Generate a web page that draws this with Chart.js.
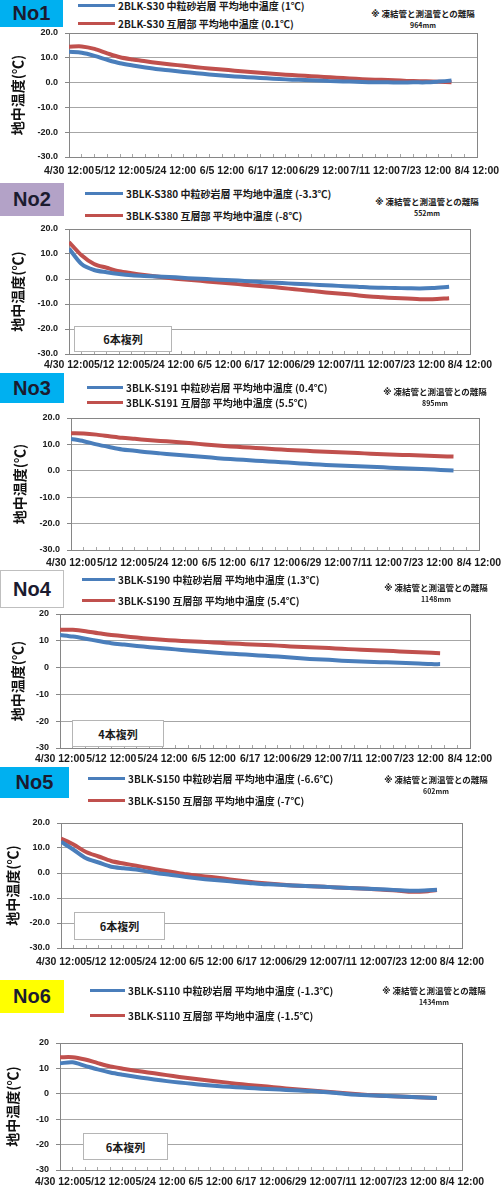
<!DOCTYPE html>
<html lang="ja">
<head>
<meta charset="utf-8">
<script src="https://cdn.jsdelivr.net/npm/chart.js@4.4.1/dist/chart.umd.min.js"></script>
<style>
  body { margin: 0; background: #fff; }
  #page { position: relative; width: 501px; height: 1187px; overflow: hidden; }
  .badge { position: absolute; box-sizing: border-box; display: flex; align-items: center; justify-content: center;
           font: bold 20px "Liberation Sans", Arial, sans-serif; color: #1b1b2f; }
  .leg { position: absolute; height: 0; }
  .leg i { position: absolute; left: 0; top: -1.5px; height: 3px; }
  .leg span { position: absolute; top: -7px; white-space: nowrap; line-height: 14px; color: #1a1a1a;
              font: bold 10px "Noto Sans CJK JP", sans-serif; }
  .note { position: absolute; width: 130px; text-align: center; color: #1a1a1a; white-space: nowrap;
          font: bold 8.5px "Noto Sans CJK JP", sans-serif; line-height: 10px; }
  .note b { font-family: "DejaVu Sans", sans-serif; color: #1a1a1a; }
  .note small { font-size: 7px; }
  .wrap { position: absolute; left: 0; width: 501px; }
  .multi { position: absolute; box-sizing: border-box; background: #fff; border: 1px solid #b5b5b5; z-index: 2;
           display: flex; align-items: center; justify-content: center; color: #1a1a1a;
           font: bold 11px "Noto Sans CJK JP", sans-serif; }
</style>
</head>
<body>
<div id="page"></div>
<script>
// 経過日数 (4/30 12:00 からの日数)
const days = [0, 3, 6, 9, 12, 15, 18, 21, 24, 27, 30, 33, 36, 39, 42, 45, 48, 51, 54, 57, 60, 63, 66, 69, 72, 75, 78, 81, 84, 87, 90];
const xTickLabels = ['4/30 12:00', '5/12 12:00', '5/24 12:00', '6/5 12:00', '6/17 12:00', '6/29 12:00', '7/11 12:00', '7/23 12:00', '8/4 12:00'];
const lastDay = [90, 91, 90, 89, 90, 90];

const panelNames = ['No1', 'No2', 'No3', 'No4', 'No5', 'No6'];
const blueLabels = [
  '2BLK-S30 中粒砂岩層 平均地中温度 (1℃)',
  '3BLK-S380 中粒砂岩層 平均地中温度 (-3.3℃)',
  '3BLK-S191 中粒砂岩層 平均地中温度 (0.4℃)',
  '3BLK-S190 中粒砂岩層 平均地中温度 (1.3℃)',
  '3BLK-S150 中粒砂岩層 平均地中温度 (-6.6℃)',
  '3BLK-S110 中粒砂岩層 平均地中温度 (-1.3℃)'
];
const redLabels = [
  '2BLK-S30 互層部 平均地中温度 (0.1℃)',
  '3BLK-S380 互層部 平均地中温度 (-8℃)',
  '3BLK-S191 互層部 平均地中温度 (5.5℃)',
  '3BLK-S190 互層部 平均地中温度 (5.4℃)',
  '3BLK-S150 互層部 平均地中温度 (-7℃)',
  '3BLK-S110 互層部 平均地中温度 (-1.5℃)'
];
const distances = ['964mm', '552mm', '895mm', '1148mm', '602mm', '1434mm'];
const multiLabels = [null, '6本複列', null, '4本複列', '6本複列', '6本複列'];

// 中粒砂岩層 (青)
const blueNo1 = [12.4, 12.0, 10.8, 9.2, 7.8, 6.9, 6.1, 5.4, 4.9, 4.3, 3.8, 3.3, 2.9, 2.5, 2.2, 1.9, 1.6, 1.3, 1.1, 0.9, 0.7, 0.5, 0.4, 0.2, 0.1, 0.1, 0.0, 0.1, 0.1, 0.4, 0.8];
const blueNo2 = [12.2, 6.0, 3.6, 2.7, 2.0, 1.5, 1.2, 1.0, 0.8, 0.5, 0.2, 0.0, -0.3, -0.5, -0.8, -1.1, -1.4, -1.6, -1.9, -2.1, -2.4, -2.6, -2.9, -3.1, -3.4, -3.5, -3.6, -3.7, -3.8, -3.6, -3.1];
const blueNo3 = [12.1, 11.2, 10.0, 9.0, 8.1, 7.6, 7.0, 6.6, 6.2, 5.8, 5.4, 5.0, 4.6, 4.3, 4.0, 3.7, 3.4, 3.1, 2.8, 2.5, 2.2, 2.0, 1.8, 1.6, 1.4, 1.2, 1.0, 0.8, 0.6, 0.3, 0.1];
const blueNo4 = [12.2, 11.6, 10.8, 9.9, 9.1, 8.6, 8.1, 7.6, 7.2, 6.8, 6.4, 6.0, 5.6, 5.3, 5.0, 4.7, 4.4, 4.1, 3.8, 3.4, 3.1, 2.9, 2.6, 2.4, 2.2, 2.0, 1.9, 1.7, 1.5, 1.3, 1.3];
const blueNo5 = [12.5, 9.3, 5.9, 4.2, 2.5, 1.9, 1.4, 0.5, -0.3, -0.9, -1.6, -2.2, -2.7, -3.1, -3.6, -4.0, -4.4, -4.6, -4.9, -5.1, -5.3, -5.5, -5.8, -6.0, -6.2, -6.4, -6.6, -6.9, -7.1, -7.0, -6.7];
const blueNo6 = [12.0, 12.4, 11.0, 9.6, 8.4, 7.5, 6.7, 6.0, 5.3, 4.7, 4.2, 3.7, 3.3, 2.9, 2.6, 2.3, 2.0, 1.8, 1.5, 1.3, 1.1, 0.7, 0.3, -0.2, -0.5, -0.7, -0.9, -1.1, -1.3, -1.5, -1.7];

// 互層部 (赤)
const redNo1 = [14.5, 14.6, 13.6, 11.8, 10.2, 9.3, 8.6, 7.9, 7.3, 6.8, 6.2, 5.7, 5.3, 4.8, 4.4, 4.0, 3.6, 3.2, 2.9, 2.6, 2.3, 2.0, 1.7, 1.4, 1.2, 1.0, 0.8, 0.6, 0.5, 0.3, 0.1];
const redNo2 = [14.8, 9.5, 6.0, 4.5, 3.1, 2.3, 1.6, 1.0, 0.4, -0.1, -0.5, -1.0, -1.4, -1.8, -2.3, -2.7, -3.1, -3.6, -4.1, -4.6, -5.1, -5.6, -6.0, -6.5, -7.0, -7.3, -7.6, -7.8, -8.1, -8.1, -7.7];
const redNo3 = [14.2, 14.1, 13.7, 13.1, 12.5, 12.1, 11.7, 11.3, 11.0, 10.6, 10.2, 9.8, 9.4, 9.1, 8.8, 8.5, 8.2, 7.9, 7.7, 7.4, 7.2, 7.0, 6.8, 6.6, 6.4, 6.2, 6.0, 5.9, 5.7, 5.5, 5.4];
const redNo4 = [14.1, 14.1, 13.6, 12.8, 12.2, 11.7, 11.2, 10.8, 10.4, 10.1, 9.8, 9.6, 9.4, 9.1, 8.9, 8.6, 8.4, 8.2, 7.9, 7.7, 7.5, 7.3, 7.0, 6.8, 6.6, 6.4, 6.2, 5.9, 5.7, 5.5, 5.4];
const redNo5 = [13.8, 11.4, 8.4, 6.6, 4.8, 3.8, 2.9, 2.0, 1.1, 0.3, -0.5, -1.1, -1.6, -2.2, -2.9, -3.5, -4.0, -4.4, -4.8, -5.1, -5.3, -5.5, -5.8, -6.0, -6.2, -6.5, -6.8, -7.1, -7.5, -7.4, -6.8];
const redNo6 = [14.4, 14.4, 13.5, 12.1, 10.8, 9.9, 9.1, 8.4, 7.7, 7.0, 6.3, 5.7, 5.1, 4.6, 4.0, 3.5, 3.1, 2.6, 2.1, 1.7, 1.3, 0.9, 0.5, 0.1, -0.3, -0.6, -0.9, -1.1, -1.3, -1.5, -1.7];

const blueSeries = [blueNo1, blueNo2, blueNo3, blueNo4, blueNo5, blueNo6];
const redSeries = [redNo1, redNo2, redNo3, redNo4, redNo5, redNo6];

// 配置 (ピクセル)
const layouts = [
  { badge: [0, 0, 63, 27, '#00b0f0'], legY: [5, 23], legX: [78, 115], note: [358, 8], plot: [69, 477, 33, 157], lab: 14, title: 18, dec: true },
  { badge: [0, 183, 64, 33, '#b3a2c7'], legY: [193, 215], legX: [85, 123], note: [362, 196], plot: [69, 470, 229, 354], lab: 11, title: 18, dec: true, multi: [74, 326, 98, 26] },
  { badge: [0, 373, 64, 30, '#00b0f0'], legY: [387, 402], legX: [87, 123], note: [370, 386], plot: [71, 479, 418, 550], lab: 13, title: 20, dec: true },
  { badge: [0, 570, 64, 38, '#ffffff'], legY: [579, 600], legX: [82, 115], note: [371, 582], plot: [60, 470, 614, 748], lab: 11, title: 18, dec: false, multi: [72, 720, 92, 27] },
  { badge: [0, 767, 69, 31, '#00b0f0'], legY: [778, 800], legX: [88, 125], note: [371, 774], plot: [61, 462, 823, 948], lab: 14, title: 13, dec: true, multi: [74, 912, 91, 28] },
  { badge: [0, 980, 64, 33, '#ffff00'], legY: [990, 1015], legX: [90, 125], note: [369, 985], plot: [60, 462, 1043, 1170], lab: 12, title: 13, dec: false, multi: [83, 1133, 85, 27] }
];

const page = document.getElementById('page');
const BLUE = '#4a7ebb';
const RED = '#c0504d';

const framePlugin = {
  id: 'frame',
  beforeDatasetsDraw(chart) {
    const { ctx, chartArea: a } = chart;
    ctx.save();
    ctx.strokeStyle = '#868686';
    ctx.lineWidth = 1;
    ctx.strokeRect(Math.round(a.left) + 0.5, Math.round(a.top) + 0.5, Math.round(a.right - a.left), Math.round(a.bottom - a.top));
    ctx.restore();
  }
};

function toPoints(values, p) {
  return values.map((v, i) => ({ x: i === days.length - 1 ? lastDay[p] : days[i], y: v }));
}

function addLegend(y, x0, x1, color, text) {
  const d = document.createElement('div');
  d.className = 'leg';
  d.style.left = x0 + 'px';
  d.style.top = y + 'px';
  d.innerHTML = `<i style="width:${x1 - x0}px;background:${color}"></i><span style="left:${x1 - x0 + 3}px">${text}</span>`;
  page.appendChild(d);
}

layouts.forEach((L, p) => {
  const [bx, by, bw, bh, bc] = L.badge;
  const badge = document.createElement('div');
  badge.className = 'badge';
  badge.style.cssText = `left:${bx}px;top:${by}px;width:${bw}px;height:${bh}px;background:${bc};` +
    (bc === '#ffffff' ? 'border:1px solid #bfbfbf;' : '');
  badge.textContent = panelNames[p];
  page.appendChild(badge);

  addLegend(L.legY[0], L.legX[0], L.legX[1], BLUE, blueLabels[p]);
  addLegend(L.legY[1], L.legX[0], L.legX[1], RED, redLabels[p]);

  const note = document.createElement('div');
  note.className = 'note';
  note.style.left = L.note[0] + 'px';
  note.style.top = L.note[1] + 'px';
  note.innerHTML = `<b>\u203B\uFE0E</b> 凍結管と測温管との離隔<br><small>${distances[p]}</small>`;
  page.appendChild(note);

  if (L.multi) {
    const m = document.createElement('div');
    m.className = 'multi';
    m.style.cssText = `left:${L.multi[0]}px;top:${L.multi[1]}px;width:${L.multi[2]}px;height:${L.multi[3]}px;`;
    m.textContent = multiLabels[p];
    page.appendChild(m);
  }

  const [pl, pr, pt, pb] = L.plot;
  const top = pt - 8;
  const xAxisH = 22;
  const wrap = document.createElement('div');
  wrap.className = 'wrap';
  wrap.style.top = top + 'px';
  wrap.style.height = (pb - top + xAxisH) + 'px';
  const canvas = document.createElement('canvas');
  wrap.appendChild(canvas);
  page.appendChild(wrap);

  const tickFont = { family: '"Liberation Sans", Arial, sans-serif', size: 9, weight: 'bold' };

  new Chart(canvas, {
    type: 'line',
    data: {
      datasets: [
        { label: blueLabels[p], data: toPoints(blueSeries[p], p), borderColor: BLUE, borderWidth: 4, pointRadius: 0, tension: 0.3 },
        { label: redLabels[p], data: toPoints(redSeries[p], p), borderColor: RED, borderWidth: 4, pointRadius: 0, tension: 0.3 }
      ]
    },
    options: {
      responsive: true,
      maintainAspectRatio: false,
      animation: false,
      layout: { padding: { left: 0, right: 501 - pr, top: 8, bottom: 0 } },
      plugins: { legend: { display: false }, tooltip: { enabled: false } },
      scales: {
        x: {
          type: 'linear', min: 0, max: 96,
          ticks: {
            stepSize: 3, autoSkip: false, maxRotation: 0, minRotation: 0,
            padding: L.lab - 6 + 3,
            color: '#1a1a1a',
            font: { family: '"Liberation Sans", Arial, sans-serif', size: 10.5, weight: 'bold' },
            callback: v => (v % 12 === 0 ? xTickLabels[v / 12] : '')
          },
          grid: { drawOnChartArea: false, drawTicks: true, tickLength: -3, tickColor: '#a6a6a6' },
          border: { color: '#868686' },
          afterFit: s => { s.height = xAxisH; s.paddingLeft = 0; s.paddingRight = 0; }
        },
        y: {
          min: -30, max: 20,
          ticks: {
            stepSize: 10, padding: 7, color: '#1a1a1a', font: tickFont,
            callback: v => (L.dec ? v.toFixed(1) : String(v))
          },
          grid: { color: '#a6a6a6', tickLength: 4, tickColor: '#868686' },
          border: { color: '#868686' },
          title: {
            display: true, text: '地中温度(℃)', color: '#111',
            font: { family: '"Noto Sans CJK JP", sans-serif', size: 14, weight: 'bold' },
            padding: { top: L.title - 8.4, bottom: 0 }
          },
          afterFit: s => { s.width = pl; s.paddingTop = 0; s.paddingBottom = 0; }
        }
      }
    },
    plugins: [framePlugin]
  });
});
</script>
</body>
</html>
